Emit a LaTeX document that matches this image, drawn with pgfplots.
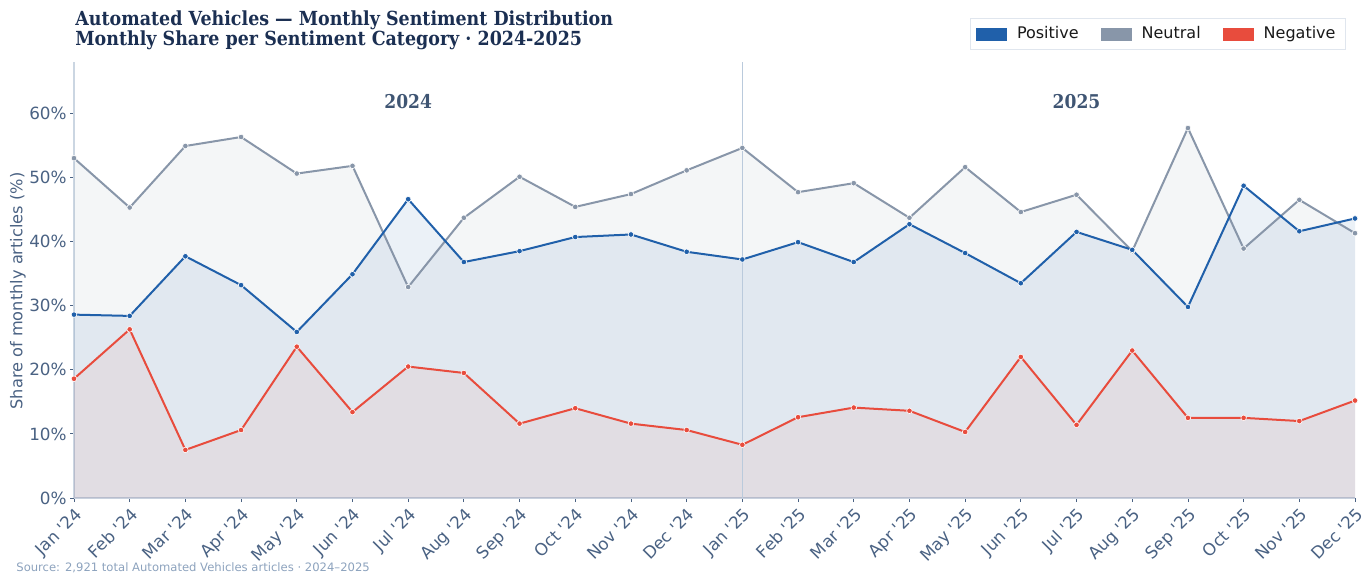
\documentclass[border=0pt]{standalone}
\usepackage{pgfplots}
\pgfplotsset{compat=1.18}
\usepackage{pgfplotstable}
\usepackage{fontspec}
\setmainfont{DejaVu Sans}
\newfontfamily\titlefont{DejaVu Serif}[FakeStretch=0.9]

\definecolor{posc}{HTML}{2060AA}
\definecolor{neuc}{HTML}{8896A9}
\definecolor{negc}{HTML}{E84C3D}
\definecolor{titlec}{HTML}{1B2F52}
\definecolor{yearc}{HTML}{3F5573}
\definecolor{tickc}{HTML}{4A6283}
\definecolor{axc}{HTML}{CBD6E2}
\definecolor{srcc}{HTML}{8CA2BD}

\pgfplotstableread{
x  pos  neu  neg
0  28.6 53.0 18.6
1  28.4 45.3 26.3
2  37.7 54.9 7.5
3  33.2 56.3 10.6
4  25.9 50.6 23.6
5  34.9 51.8 13.4
6  46.6 32.9 20.5
7  36.8 43.7 19.5
8  38.5 50.1 11.6
9  40.7 45.4 14.0
10 41.1 47.4 11.6
11 38.4 51.1 10.6
12 37.2 54.6 8.3
13 39.9 47.7 12.6
14 36.8 49.1 14.1
15 42.7 43.7 13.6
16 38.2 51.6 10.3
17 33.5 44.6 22.0
18 41.5 47.3 11.4
19 38.7 38.5 23.0
20 29.8 57.7 12.5
21 48.7 38.9 12.5
22 41.6 46.5 12.0
23 43.6 41.3 15.2
}\sentdata

\begin{document}
\begin{tikzpicture}
\path[use as bounding box] (-37pt,-37.5pt) rectangle (644.5pt,249pt);
\begin{axis}[
    scale only axis,
    width=640.5pt,
    height=218pt,
    xmin=0, xmax=23,
    ymin=0, ymax=68,
    axis x line*=bottom,
    axis y line*=left,
    axis line style={draw=axc, line width=0.6pt},
    tick align=outside,
    major tick length=2pt,
    tick style={draw=tickc, line width=0.4pt},
    xtick={0,...,23},
    xticklabels={Jan \textquotesingle24,Feb \textquotesingle24,Mar \textquotesingle24,Apr \textquotesingle24,May \textquotesingle24,Jun \textquotesingle24,Jul \textquotesingle24,Aug \textquotesingle24,Sep \textquotesingle24,Oct \textquotesingle24,Nov \textquotesingle24,Dec \textquotesingle24,Jan \textquotesingle25,Feb \textquotesingle25,Mar \textquotesingle25,Apr \textquotesingle25,May \textquotesingle25,Jun \textquotesingle25,Jul \textquotesingle25,Aug \textquotesingle25,Sep \textquotesingle25,Oct \textquotesingle25,Nov \textquotesingle25,Dec \textquotesingle25},
    x tick label style={rotate=45, anchor=north east, inner sep=1.5pt},
    y tick label style={inner sep=1.5pt},
    ytick={0,10,...,60},
    yticklabels={0\%,10\%,20\%,30\%,40\%,50\%,60\%},
    tick label style={font=\fontsize{8.4}{10}\selectfont, text=tickc},
    legend style={at={(0.993,1.101)}, anchor=north east, legend columns=3,
        draw=axc!60, line width=0.5pt,
        font=\fontsize{8}{10}\selectfont, text=black!90,
        inner xsep=3pt, inner ysep=2pt,
        /tikz/every odd column/.append style={column sep=3pt},
        /tikz/every even column/.append style={column sep=9pt}},
    legend cell align={left},
]
% fills
\addplot[draw=none, fill=neuc, fill opacity=0.09, forget plot] table[x=x,y=neu]{\sentdata} \closedcycle;
\addplot[draw=none, fill=posc, fill opacity=0.09, forget plot] table[x=x,y=pos]{\sentdata} \closedcycle;
\addplot[draw=none, fill=negc, fill opacity=0.07, forget plot] table[x=x,y=neg]{\sentdata} \closedcycle;
% year divider
\draw[color=axc!90!posc, line width=0.5pt] (axis cs:12,0) -- (axis cs:12,68);
% lines
\addplot[neuc, line width=1pt, mark=*, mark size=1.4pt, mark options={draw=white, line width=0.3pt, fill=neuc}, forget plot] table[x=x,y=neu]{\sentdata};
\addplot[posc, line width=1pt, mark=*, mark size=1.4pt, mark options={draw=white, line width=0.3pt, fill=posc}, forget plot] table[x=x,y=pos]{\sentdata};
\addplot[negc, line width=1pt, mark=*, mark size=1.4pt, mark options={draw=white, line width=0.3pt, fill=negc}, forget plot] table[x=x,y=neg]{\sentdata};
% legend
\addlegendimage{legend image code/.code={\fill[posc, sharp corners] (0pt,-3pt) rectangle (15pt,3pt);}}
\addlegendentry{Positive}
\addlegendimage{legend image code/.code={\fill[neuc, sharp corners] (0pt,-3pt) rectangle (15pt,3pt);}}
\addlegendentry{Neutral}
\addlegendimage{legend image code/.code={\fill[negc, sharp corners] (0pt,-3pt) rectangle (15pt,3pt);}}
\addlegendentry{Negative}
% year labels
\node[font=\titlefont\bfseries\fontsize{9.5}{11}\selectfont, text=yearc] at (axis cs:6,61.8) {2024};
\node[font=\titlefont\bfseries\fontsize{9.5}{11}\selectfont, text=yearc] at (axis cs:18,61.8) {2025};
\end{axis}
% y label
\node[rotate=90, font=\fontsize{8.1}{10}\selectfont, text=tickc] at (-28pt,103.5pt) {Share of monthly articles (\%)};
% title
\node[anchor=base west, inner sep=0pt, font=\titlefont\bfseries\fontsize{9.7}{11}\selectfont, text=titlec] at (0.5pt,236pt) {Automated Vehicles — Monthly Sentiment Distribution};
\node[anchor=base west, inner sep=0pt, font=\titlefont\bfseries\fontsize{9.7}{11}\selectfont, text=titlec] at (0.5pt,226pt) {Monthly Share per Sentiment Category · 2024-2025};
% source
\node[anchor=base west, inner sep=0pt, font=\fontsize{5.8}{7}\selectfont, text=srcc] at (-29pt,-36.5pt) {Source: 2,921 total Automated Vehicles articles · 2024–2025};
\end{tikzpicture}
\end{document}
